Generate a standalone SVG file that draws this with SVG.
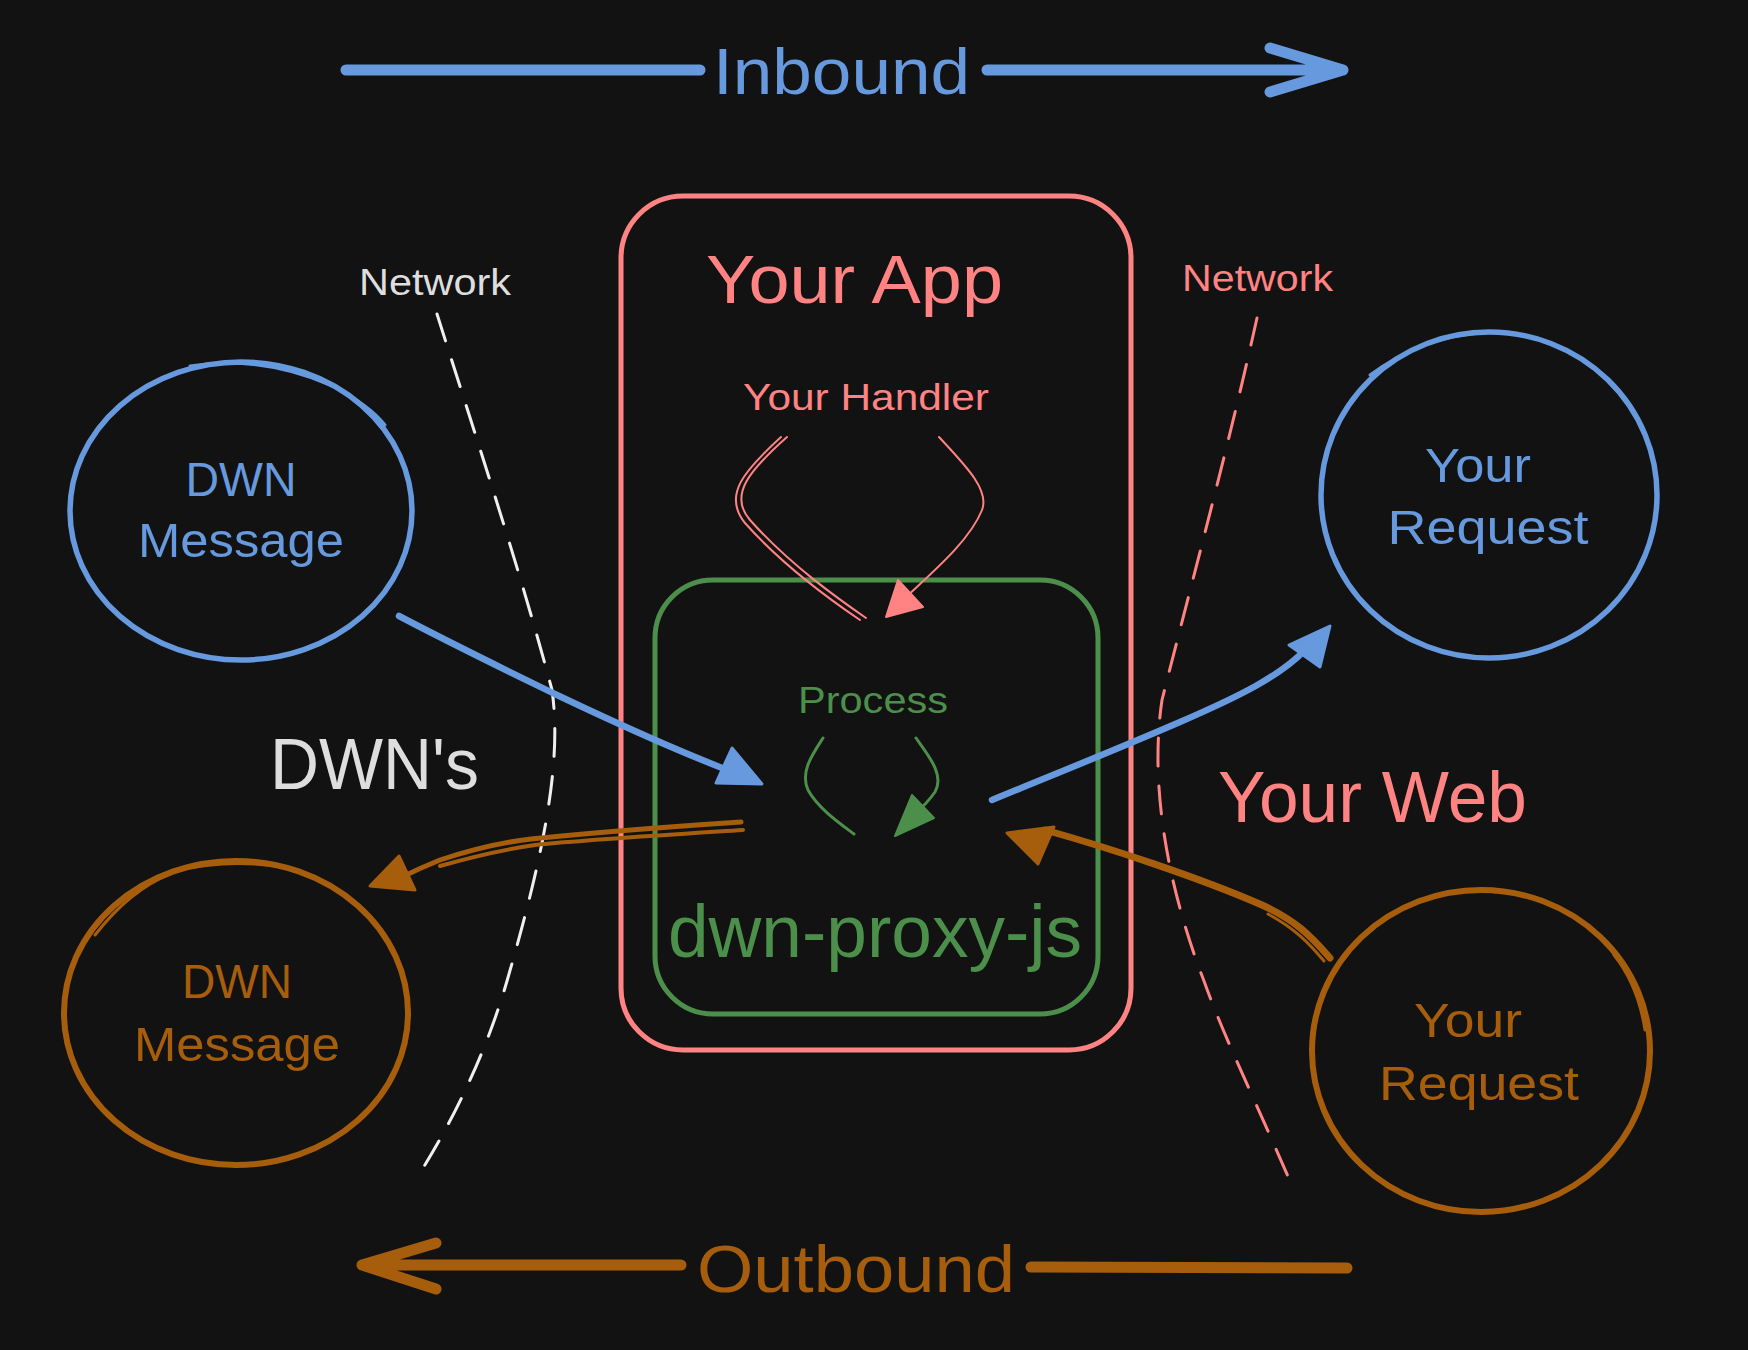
<svg xmlns="http://www.w3.org/2000/svg" width="1748" height="1350" viewBox="0 0 1748 1350">
<style>
text{font-family:"Liberation Sans","DejaVu Sans",sans-serif;}
.blue{fill:#6699dd}.red{fill:#ff8383}.green{fill:#4b8f4a}.orange{fill:#a65e0d}.white{fill:#dedede}
.sb{stroke:#6699dd}.sr{stroke:#ff8383}.sg{stroke:#4b8f4a}.so{stroke:#a65e0d}
.ln{fill:none;stroke-linecap:round;stroke-linejoin:round}
</style>
<rect width="1748" height="1350" fill="#121212"/>

<g id="inbound">
<path class="ln sb" stroke-width="11" d="M346 70 L700 70 M987 70 L1343 70 M1270 48 L1343 70 L1270 92"/>
<text class="blue" x="713" y="94" font-size="64" textLength="257" lengthAdjust="spacingAndGlyphs">Inbound</text>
</g>

<g id="outbound">
<path class="ln so" stroke-width="11" d="M362 1265 L681 1265 M1031 1267 L1347 1268 M436 1243 L362 1265 L436 1289"/>
<text class="orange" x="697" y="1292" font-size="66" textLength="318" lengthAdjust="spacingAndGlyphs">Outbound</text>
</g>

<g id="your-app">
<rect x="621" y="196" width="510" height="854" rx="62" class="ln sr" stroke-width="5"/>
<text class="red" x="706" y="303" font-size="68" textLength="297" lengthAdjust="spacingAndGlyphs">Your App</text>
<text class="red" x="743" y="410" font-size="36" textLength="246" lengthAdjust="spacingAndGlyphs">Your Handler</text>
</g>

<g id="dwn-proxy-js">
<rect x="655" y="580" width="443" height="434" rx="58" class="ln sg" stroke-width="5"/>
<text class="green" x="798" y="713" font-size="37" textLength="150" lengthAdjust="spacingAndGlyphs">Process</text>
<text class="green" x="668" y="957" font-size="74" textLength="414" lengthAdjust="spacingAndGlyphs">dwn-proxy-js</text>
</g>

<g id="dwn-message-in">
<ellipse cx="241" cy="511" rx="171" ry="149" class="ln sb" stroke-width="5.5"/>
<path class="ln sb" stroke-width="3" d="M190 366 Q260 355 330 385 Q370 405 385 425"/>
<text class="blue" x="241" y="496" font-size="48" text-anchor="middle" textLength="111" lengthAdjust="spacingAndGlyphs">DWN</text>
<text class="blue" x="241" y="557" font-size="48" text-anchor="middle" textLength="206" lengthAdjust="spacingAndGlyphs">Message</text>
</g>

<g id="dwn-message-out">
<ellipse cx="236" cy="1013" rx="172" ry="152" class="ln so" stroke-width="6"/>
<path class="ln so" stroke-width="3" d="M180 870 Q230 858 290 868 M95 935 Q130 890 170 874"/>
<text class="orange" x="237" y="998" font-size="48" text-anchor="middle" textLength="110" lengthAdjust="spacingAndGlyphs">DWN</text>
<text class="orange" x="237" y="1061" font-size="48" text-anchor="middle" textLength="206" lengthAdjust="spacingAndGlyphs">Message</text>
</g>

<g id="your-request-in">
<ellipse cx="1489" cy="495" rx="168" ry="163" class="ln sb" stroke-width="5.5"/>
<path class="ln sb" stroke-width="3" d="M1370 375 Q1420 338 1480 333"/>
<text class="blue" x="1478" y="482" font-size="48" text-anchor="middle" textLength="106" lengthAdjust="spacingAndGlyphs">Your</text>
<text class="blue" x="1488" y="544" font-size="48" text-anchor="middle" textLength="201" lengthAdjust="spacingAndGlyphs">Request</text>
</g>

<g id="your-request-out">
<ellipse cx="1481" cy="1051" rx="169" ry="161" class="ln so" stroke-width="6"/>
<path class="ln so" stroke-width="3" d="M1455 893 Q1475 888 1495 892 M1614 955 Q1638 985 1645 1030"/>
<text class="orange" x="1468" y="1037" font-size="48" text-anchor="middle" textLength="108" lengthAdjust="spacingAndGlyphs">Your</text>
<text class="orange" x="1479" y="1100" font-size="48" text-anchor="middle" textLength="200" lengthAdjust="spacingAndGlyphs">Request</text>
</g>

<g id="network-left">
<text class="white" x="359" y="295" font-size="36" textLength="152" lengthAdjust="spacingAndGlyphs">Network</text>
</g>
<g id="network-right">
<text class="red" x="1182" y="291" font-size="36" textLength="151" lengthAdjust="spacingAndGlyphs">Network</text>
</g>
<g id="dwns">
<text class="white" x="270" y="789" font-size="72" textLength="209" lengthAdjust="spacingAndGlyphs">DWN's</text>
</g>
<g id="your-web">
<text class="red" x="1218" y="822" font-size="72" textLength="309" lengthAdjust="spacingAndGlyphs">Your Web</text>
</g>

<g id="connectors">
<path class="ln" stroke="#f0f0f0" stroke-width="3" stroke-dasharray="28 20" d="M437 314 C480 450 520 570 552 690 C562 760 545 850 507 981 C490 1040 460 1110 418 1176"/>
<path class="ln sr" stroke-width="3" stroke-dasharray="28 20" d="M1257 318 C1230 440 1195 570 1162 700 C1150 780 1165 880 1204 981 C1225 1040 1260 1110 1295 1193"/>

<path class="ln sr" stroke-width="2" d="M787 437 C750 470 728 495 750 520 C790 565 840 600 866 618"/>
<path class="ln sr" stroke-width="2" d="M781 437 C745 470 722 495 745 523 C785 568 835 603 860 620"/>
<path class="ln sr" stroke-width="2" d="M939 437 C965 465 990 490 982 510 C970 540 935 570 905 598"/>
<polygon class="red" points="886,617 898,580 923,607" stroke="#ff8383" stroke-width="2" stroke-linejoin="round"/>

<path class="ln sg" stroke-width="3" d="M823 738 C812 755 800 772 808 790 C818 808 838 822 854 834"/>
<path class="ln sg" stroke-width="3" d="M916 738 C928 755 945 775 935 792 C928 802 922 808 914 814"/>
<polygon class="green" points="895,836 912,795 934,818" stroke="#4b8f4a" stroke-width="2" stroke-linejoin="round"/>

<path class="ln sb" stroke-width="6.5" d="M399 616 C460 648 510 672 557 695 C620 725 680 752 735 773"/>
<polygon class="blue" points="762,784 732,748 716,783" stroke="#6699dd" stroke-width="3" stroke-linejoin="round"/>

<path class="ln so" stroke-width="5" d="M741 822 C650 828 580 834 531 839 C495 843 464 852 440 860 C425 866 412 872 400 878"/>
<path class="ln so" stroke-width="4" d="M743 830 C650 836 585 840 535 845 C500 850 468 858 440 866"/>
<polygon class="orange" points="370,886 399,856 415,890" stroke="#a65e0d" stroke-width="3" stroke-linejoin="round"/>

<path class="ln sb" stroke-width="6.5" d="M992 800 C1060 772 1120 748 1180 722 C1240 696 1280 676 1305 650"/>
<polygon class="blue" points="1330,626 1289,645 1320,667" stroke="#6699dd" stroke-width="3" stroke-linejoin="round"/>

<path class="ln so" stroke-width="7" d="M1330 958 C1310 935 1295 920 1262 905 C1200 878 1110 848 1045 830"/>
<path class="ln so" stroke-width="3" d="M1324 961 C1308 942 1294 928 1268 914"/>
<polygon class="orange" points="1007,833 1054,827 1038,864" stroke="#a65e0d" stroke-width="3" stroke-linejoin="round"/>
</g>
</svg>
